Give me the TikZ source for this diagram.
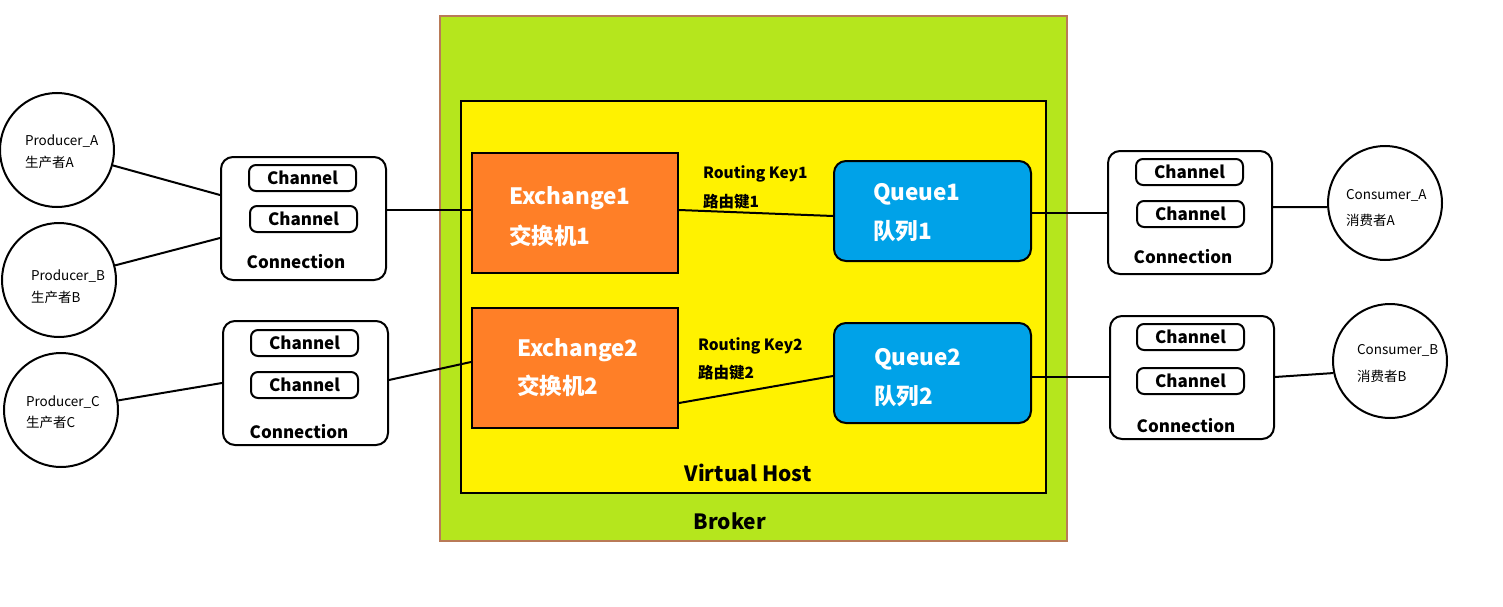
\documentclass[tikz,border=0pt]{standalone}
\usepackage{fontspec}
\setmainfont{Noto Sans CJK SC}
\definecolor{brokergreen}{HTML}{B5E61D}
\definecolor{brokerborder}{HTML}{B97A57}
\definecolor{vhyellow}{HTML}{FFF200}
\definecolor{exorange}{HTML}{FF7F27}
\definecolor{qblue}{HTML}{00A2E8}
\begin{document}
\begin{tikzpicture}[x=1pt,y=-1pt,line width=2pt,
  boxarea/.style={draw,rectangle,anchor=north west,inner sep=0pt},
  conn/.style={boxarea,rounded corners=12pt,fill=white},
  chan/.style={boxarea,rounded corners=7pt,fill=white,minimum width=107pt,minimum height=26pt},
  exbox/.style={boxarea,fill=exorange,minimum width=206pt,minimum height=120pt},
  qbox/.style={boxarea,fill=qblue,rounded corners=12pt,minimum width=197pt,minimum height=100pt},
  circ/.style={draw,circle,fill=white,minimum size=114pt,inner sep=0pt},
  bigtxt/.style={font=\fontsize{22.5}{26}\selectfont\bfseries,text=white,anchor=west,inner sep=0pt},
  midtxt/.style={font=\fontsize{17}{20}\selectfont\bfseries,inner sep=0pt},
  keytxt/.style={font=\fontsize{15.5}{18}\selectfont\bfseries,anchor=west,inner sep=0pt},
  lbltxt/.style={font=\fontsize{21}{24}\selectfont\bfseries,inner sep=0pt},
  smalltxt/.style={font=\fontsize{13.5}{15}\selectfont,anchor=west,inner sep=0pt},
  wire/.style={line width=2pt}]
\useasboundingbox (0,0) rectangle (1503,607);
% Broker
\node[boxarea,fill=brokergreen,draw=brokerborder,minimum width=627pt,minimum height=525pt] (broker) at (439,15) {};
\node[lbltxt] (brokerlbl) at (730,521) {Broker};
% Virtual host
\node[boxarea,fill=vhyellow,minimum width=585pt,minimum height=392pt] (vhost) at (460,100) {};
\node[lbltxt] (vhlbl) at (748,473) {Virtual Host};
% Exchanges
\node[exbox] (ex1) at (471,152) {};
\node[bigtxt] (ex1a) at (508,198) {Exchange1};
\node[bigtxt] (ex1b) at (508,236) {交换机1};
\node[exbox] (ex2) at (471,307) {};
\node[bigtxt] (ex2a) at (516,350) {Exchange2};
\node[bigtxt] (ex2b) at (516,386) {交换机2};
% Queues
\node[qbox] (q1) at (833,160) {};
\node[bigtxt] (q1a) at (872,194) {Queue1};
\node[bigtxt] (q1b) at (872,231) {队列1};
\node[qbox] (q2) at (833,322) {};
\node[bigtxt] (q2a) at (873,359) {Queue2};
\node[bigtxt] (q2b) at (873,396) {队列2};
% Routing keys
\node[keytxt] (rk1a) at (702,174) {Routing Key1};
\node[keytxt] (rk1b) at (702,202) {路由键1};
\node[keytxt] (rk2a) at (697,346) {Routing Key2};
\node[keytxt] (rk2b) at (697,373) {路由键2};
% Connections (left)
\node[conn,minimum width=165pt,minimum height=123pt] (c1) at (220,156) {};
\node[chan] (c1ch1) at (248,164) {};
\node[midtxt] at (c1ch1.center) {Channel};
\node[chan] (c1ch2) at (249,205) {};
\node[midtxt] at (c1ch2.center) {Channel};
\node[midtxt] (c1lbl) at (296,262) {Connection};
\node[conn,minimum width=165pt,minimum height=124pt] (c2) at (222,320) {};
\node[chan] (c2ch1) at (250,329) {};
\node[midtxt] at (c2ch1.center) {Channel};
\node[chan] (c2ch2) at (250,371) {};
\node[midtxt] at (c2ch2.center) {Channel};
\node[midtxt] (c2lbl) at (299,432) {Connection};
% Connections (right)
\node[conn,minimum width=164pt,minimum height=123pt] (c3) at (1107,150) {};
\node[chan] (c3ch1) at (1135,158) {};
\node[midtxt] at (c3ch1.center) {Channel};
\node[chan] (c3ch2) at (1136,200) {};
\node[midtxt] at (c3ch2.center) {Channel};
\node[midtxt] (c3lbl) at (1183,257) {Connection};
\node[conn,minimum width=164pt,minimum height=123pt] (c4) at (1109,315) {};
\node[chan] (c4ch1) at (1136,323) {};
\node[midtxt] at (c4ch1.center) {Channel};
\node[chan] (c4ch2) at (1136,367) {};
\node[midtxt] at (c4ch2.center) {Channel};
\node[midtxt] (c4lbl) at (1186,426) {Connection};
% Circles
\node[circ] (pa) at (57,150) {};
\node[smalltxt] at (24,141) {Producer\_A};
\node[smalltxt] at (24,162) {生产者A};
\node[circ] (pb) at (59,280) {};
\node[smalltxt] at (30,276) {Producer\_B};
\node[smalltxt] at (30,297) {生产者B};
\node[circ] (pc) at (61,410) {};
\node[smalltxt] at (25,402) {Producer\_C};
\node[smalltxt] at (25,422) {生产者C};
\node[circ] (ca) at (1385,203) {};
\node[smalltxt] at (1345,195) {Consumer\_A};
\node[smalltxt] at (1345,220) {消费者A};
\node[circ] (cb) at (1390,361) {};
\node[smalltxt] at (1356,350) {Consumer\_B};
\node[smalltxt] at (1356,376) {消费者B};
% Wires
\draw[wire] (pa) -- (c1.west |- 0,195);
\draw[wire] (pb) -- (c1.west |- 0,238);
\draw[wire] (pc) -- (c2.west |- 0,383);
\draw[wire] (c1.east |- 0,210) -- (ex1.west |- 0,210);
\draw[wire] (c2.east |- 0,380) -- (ex2.west |- 0,362);
\draw[wire] (ex1.east |- 0,210) -- (q1.west |- 0,216);
\draw[wire] (ex2.east |- 0,403) -- (q2.west |- 0,376);
\draw[wire] (q1.east |- 0,213) -- (c3.west |- 0,213);
\draw[wire] (q2.east |- 0,377) -- (c4.west |- 0,377);
\draw[wire] (c3.east |- 0,207) -- (ca.184);
\draw[wire] (c4.east |- 0,377) -- (cb.192);
\end{tikzpicture}
\end{document}
